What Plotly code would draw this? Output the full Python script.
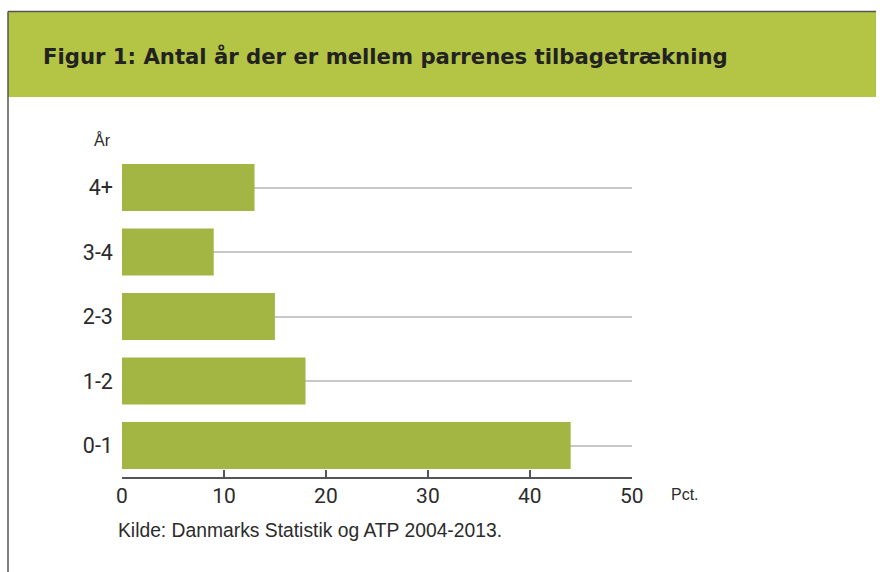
import plotly.graph_objects as go

categories = ["0-1", "1-2", "2-3", "3-4", "4+"]
values = [44, 18, 15, 9, 13]
x_ticks = [0, 10, 20, 30, 40, 50]

W, H = 888, 572
BAR = "#a3b543"
BAND = "#b4c545"
TXT = "#2b2b2b"

def px(x):
    # horizontal placement helper (compensates the observed render offset)
    return ((x - 6) / 0.98) / W

def py(y):
    return 1 - y / H

fig = go.Figure(go.Bar(
    y=categories, x=values, orientation="h",
    marker=dict(color=BAR, line=dict(width=0)),
    hoverinfo="skip",
))

fig.update_layout(
    width=W, height=H,
    margin=dict(l=0, r=0, t=0, b=0),
    paper_bgcolor="white", plot_bgcolor="white",
    showlegend=False,
    bargap=0.27,
    font=dict(family="Roboto", color=TXT),
    xaxis=dict(
        domain=[px(122), px(632)],
        range=[0, 50], tickvals=x_ticks,
        ticks="inside", ticklen=7, tickwidth=1.5, tickcolor="#555",
        showline=True, linecolor="#555", linewidth=1.5,
        showgrid=False, zeroline=False,
        tickfont=dict(family="Roboto", size=21, color=TXT),
    ),
    yaxis=dict(
        domain=[py(476.5), py(154)],
        range=[-0.48, 4.52],
        type="category", categoryorder="array", categoryarray=categories,
        showgrid=True, gridcolor="#c8c8c8", gridwidth=1.5,
        showline=False, zeroline=False, ticks="",
        ticklabelstandoff=8,
        tickfont=dict(family="Roboto", size=21.5, color=TXT),
    ),
    shapes=[
        dict(type="rect", xref="paper", yref="paper",
             x0=px(8), x1=1, y0=py(97), y1=py(12),
             fillcolor=BAND, line=dict(width=0), layer="below"),
        dict(type="line", xref="paper", yref="paper",
             x0=px(8), x1=1, y0=py(11.5), y1=py(11.5),
             line=dict(color="#555", width=1.5)),
        dict(type="line", xref="paper", yref="paper",
             x0=px(8), x1=px(8), y0=py(11.5), y1=0,
             line=dict(color="#555", width=1.5)),
    ],
    annotations=[
        dict(text="<b>Figur 1: Antal år der er mellem parrenes tilbagetrækning</b>",
             xref="paper", yref="paper", x=px(41), y=py(56),
             xanchor="left", yanchor="middle", showarrow=False,
             font=dict(family="DejaVu Sans", size=21.2, color="#222")),
        dict(text="År", xref="paper", yref="paper", x=px(92), y=py(140),
             xanchor="left", yanchor="middle", showarrow=False,
             font=dict(family="Liberation Sans", size=16, color=TXT)),
        dict(text="Pct.", xref="paper", yref="paper", x=px(669), y=py(494),
             xanchor="left", yanchor="middle", showarrow=False,
             font=dict(family="Liberation Sans", size=16, color=TXT)),
        dict(text="Kilde: Danmarks Statistik og ATP 2004-2013.", xref="paper", yref="paper",
             x=px(116), y=py(530), xanchor="left", yanchor="middle", showarrow=False,
             font=dict(family="Liberation Sans", size=19.3, color=TXT)),
    ],
)

fig.write_html("out.html", config={"displayModeBar": False},
               post_script="document.body.style.margin='0';document.body.style.overflow='hidden';")
